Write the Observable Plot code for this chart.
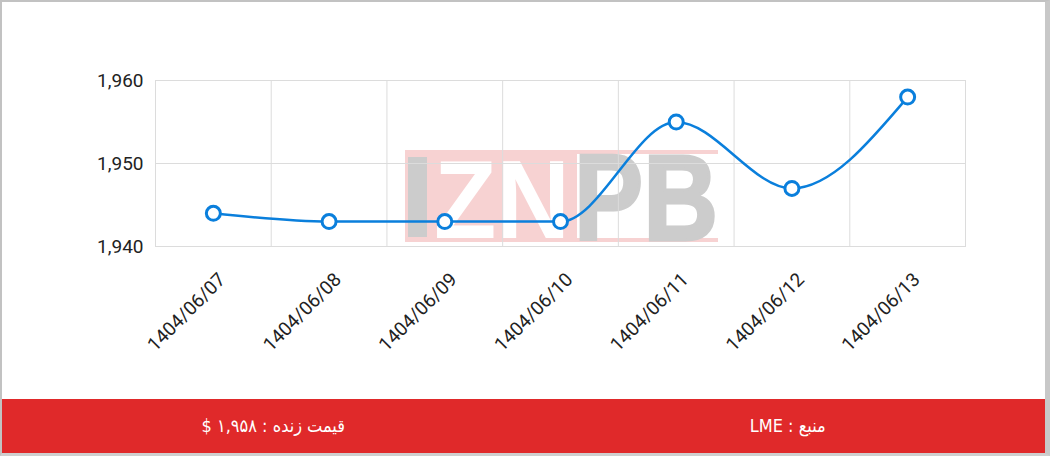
<!DOCTYPE html>
<html>
<head>
<meta charset="utf-8">
<script src="https://cdn.jsdelivr.net/npm/d3@7"></script>
<script src="https://cdn.jsdelivr.net/npm/@observablehq/plot@0.6"></script>
<style>
  html, body { margin: 0; padding: 0; background: #fff; }
  #wrap {
    position: relative; box-sizing: border-box; width: 1050px; height: 456px;
    border-top: 2px solid #c2c2c2; border-left: 2px solid #c2c2c2;
    border-right: 5px solid #c8c8c8; border-bottom: 3px solid #cfcfcf;
    background: #fff; overflow: hidden;
  }
  #wm { position: absolute; left: 0; top: 0; }
  #chart { position: absolute; left: 0; top: 0; }
  #chart svg { background: transparent !important; }
  #footer {
    position: absolute; left: 0; top: 397px; width: 1043px; height: 54px;
    background: #e0292a; color: #fff; display: flex;
    font-family: "DejaVu Sans Condensed", "DejaVu Sans", sans-serif; font-size: 18px;
  }
  #footer div { flex: 1; display: flex; align-items: center; justify-content: center; padding-bottom: 2px; }
</style>
</head>
<body>
<div id="wrap">
  <svg id="wm" width="1043" height="397">
    <g transform="translate(-2,-2)">
      <rect x="405" y="150" width="313" height="4" fill="#f7d2d2"></rect>
      <rect x="405" y="238" width="313" height="4" fill="#f7d2d2"></rect>
      <rect x="405" y="150" width="172" height="92" fill="#f7d2d2"></rect>
      <rect x="408" y="157" width="19" height="80" fill="#cccccc"></rect>
      <text x="434" y="238" font-family="Liberation Sans, Arial, sans-serif" font-weight="bold" font-size="112" fill="#ffffff" textLength="136" lengthAdjust="spacingAndGlyphs">ZN</text>
      <text x="574" y="240" font-family="Liberation Sans, Arial, sans-serif" font-weight="bold" font-size="122" fill="#cccccc" stroke="#cccccc" stroke-width="3" textLength="144" lengthAdjust="spacingAndGlyphs">PB</text>
    </g>
  </svg>
  <div id="chart"></div>
  <div id="footer">
    <div dir="rtl" style="padding-left:14px">قیمت زنده : ۱,۹۵۸ $</div>
    <div dir="rtl">منبع : LME</div>
  </div>
</div>
<script>
const dates = ["1404/06/07","1404/06/08","1404/06/09","1404/06/10","1404/06/11","1404/06/12","1404/06/13"];
const prices = [1944, 1943, 1943, 1943, 1955, 1947, 1958];
const yTicks = [1940, 1950, 1960];

const data = dates.map((d, i) => ({i, date: d, price: prices[i]}));
const bounds = d3.range(-0.5, dates.length, 1);

const plot = Plot.plot({
  width: 1043,
  height: 397,
  marginLeft: 153,
  marginRight: 80,
  marginTop: 78,
  marginBottom: 153,
  style: {fontFamily: "Roboto, sans-serif", fontSize: "16px", color: "#333", background: "transparent"},
  x: {domain: [-0.5, dates.length - 0.5], axis: null},
  y: {domain: [1940, 1960], axis: null},
  marks: [
    Plot.ruleX(bounds, {x: d => d, stroke: "#dcdcdc", strokeWidth: 1}),
    Plot.ruleY(yTicks, {y: d => d, stroke: "#dcdcdc", strokeWidth: 1}),
    Plot.frame({stroke: "#dcdcdc"}),
    Plot.axisY({ticks: yTicks, tickFormat: d3.format(","), tickSize: 0, tickPadding: 12, fontSize: 19, fill: "#222", label: null}),
    Plot.axisX({ticks: d3.range(dates.length), tickFormat: i => dates[i], tickSize: 0, tickRotate: -45, tickPadding: 30, dx: 9, fontSize: 19, fill: "#222", label: null}),
    Plot.line(data, {x: "i", y: "price", curve: "monotone-x", stroke: "#0a7fdc", strokeWidth: 2.5}),
    Plot.dot(data, {x: "i", y: "price", r: 7, fill: "#fff", stroke: "#0a7fdc", strokeWidth: 3})
  ]
});
document.getElementById("chart").appendChild(plot);
</script>
</body>
</html>
